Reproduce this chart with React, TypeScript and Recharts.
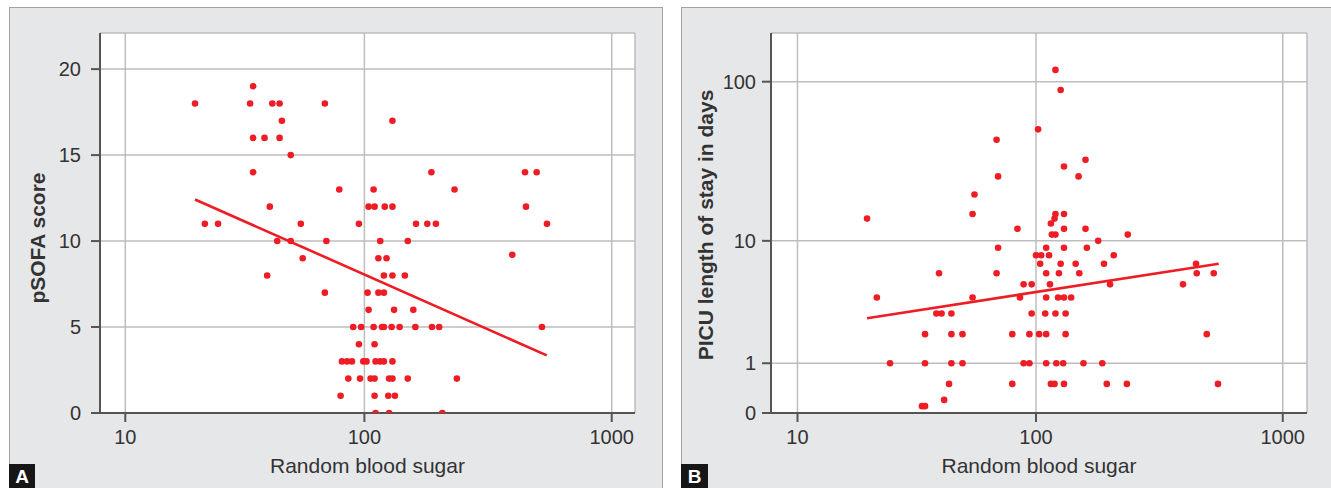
import React from 'react';
import { ScatterChart, Scatter, XAxis, YAxis, CartesianGrid, Label } from 'recharts';

// panel A: pSOFA score vs random blood sugar
const sugarA = [
  20, 35, 34, 42, 45, 69, 46, 35, 39, 45, 50, 35, 41, 22, 25, 55, 44, 50, 70, 56,
  40, 69, 79, 130, 187, 447, 498, 109, 232, 104, 110, 121, 130, 451, 95, 162, 180, 195, 548, 116,
  150, 114, 123, 120, 130, 146, 103, 114, 120, 104, 132, 158, 90, 97, 109, 118, 120, 129, 139, 161,
  188, 201, 523, 95, 110, 81, 85, 89, 99, 102, 111, 116, 120, 130, 86, 96, 106, 110, 126, 130,
  150, 237, 80, 110, 125, 133, 111, 126, 207, 397,
];
const sofaA = [
  18, 19, 18, 18, 18, 18, 17, 16, 16, 16, 15, 14, 12, 11, 11, 11, 10, 10, 10, 9,
  8, 7, 13, 17, 14, 14, 14, 13, 13, 12, 12, 12, 12, 12, 11, 11, 11, 11, 11, 10,
  10, 9, 9, 8, 8, 8, 7, 7, 7, 6, 6, 6, 5, 5, 5, 5, 5, 5, 5, 5,
  5, 5, 5, 4, 4, 3, 3, 3, 3, 3, 3, 3, 3, 3, 2, 2, 2, 2, 2, 2,
  2, 2, 1, 1, 1, 1, 0, 0, 0, 9.2,
];
const fitSugarA = [20, 547];
const fitSofaA = [12.42, 3.35];

// panel B: PICU length of stay vs random blood sugar
const sugarB = [
  120, 126, 102, 69, 70, 159, 130, 149, 120, 130, 119, 115, 84, 130, 159, 116, 120, 179, 70, 110,
  130, 161, 100, 105, 113, 207, 104, 126, 145, 189, 69, 110, 124, 150, 89, 96, 114, 200, 86, 110,
  123, 130, 139, 96, 109, 120, 132, 80, 94, 103, 110, 132, 89, 94, 110, 121, 129, 156, 186, 80,
  115, 119, 130, 194, 56, 55, 20, 40, 22, 55, 39, 41, 45, 35, 45, 50, 25, 35, 45, 50,
  44, 42, 34, 35, 236, 395, 446, 449, 526, 493, 547, 234,
];
const stayB = [
  118, 89, 51, 44, 26, 33, 30, 26, 15, 15, 14, 13, 12, 12, 12, 11, 11, 10, 9, 9,
  9, 9, 8, 8, 8, 8, 7, 7, 7, 7, 6, 6, 6, 6, 5, 5, 5, 5, 4, 4,
  4, 4, 4, 3, 3, 3, 3, 2, 2, 2, 2, 2, 1, 1, 1, 1, 1, 1, 1, 0.5,
  0.5, 0.5, 0.5, 0.5, 20, 15, 14, 6, 4, 4, 3, 3, 3, 2, 2, 2, 1, 1, 1, 1,
  0.5, 0.2, 0.1, 0.1, 11, 5, 7, 6, 6, 2, 0.5, 0.5,
];
const fitSugarB = [20, 551];
const fitStayB = [2.74, 7.0];

const sugarTicks = [10, 100, 1000];
const sofaTicks = [0, 5, 10, 15, 20];
const stayTicks = [0, 1, 10, 100];

const RED = '#ee1c25';
const FONT = '"Liberation Sans", Arial, Helvetica, sans-serif';
const AXIS = '#555555';
const TEXT = '#333333';

// both axes of the figure are drawn as log(v + 1)
const plus1 = (v: number) => v + 1;
const minus1 = (v: number) => String(Math.round(v - 1));

const dataA = sugarA.map((s, i) => ({ x: plus1(s), y: sofaA[i] }));
const lineA = fitSugarA.map((s, i) => ({ x: plus1(s), y: fitSofaA[i] }));
const dataB = sugarB.map((s, i) => ({ x: plus1(s), y: plus1(stayB[i]) }));
const lineB = fitSugarB.map((s, i) => ({ x: plus1(s), y: plus1(fitStayB[i]) }));

const Dot = (p: any) => <circle cx={p.cx} cy={p.cy} r={3.3} fill={RED} />;
const NoDot = () => <g />;

const vTitle = (text: string, x: number, y: number) => () => (
  <text
    x={x}
    y={y}
    transform={`rotate(-90 ${x} ${y})`}
    textAnchor="middle"
    fontFamily={FONT}
    fontSize={21}
    fontWeight="bold"
    fill={TEXT}
  >
    {text}
  </text>
);

const hTitle = (text: string, x: number, y: number) => () => (
  <text x={x} y={y} textAnchor="middle" fontFamily={FONT} fontSize={21} fill={TEXT}>
    {text}
  </text>
);

const tickStyle = { fill: TEXT, fontSize: 20, fontFamily: FONT };
const lineStyle = { stroke: AXIS, strokeWidth: 2 };

type PanelProps = {
  left: number;
  width: number;
  letter: string;
  letterWidth: number;
  children: React.ReactNode;
};

const Panel = ({ left, width, letter, letterWidth, children }: PanelProps) => (
  <div
    style={{
      position: 'absolute',
      left,
      top: 7,
      width,
      height: 481,
      boxSizing: 'border-box',
      background: '#e6e7e9',
      borderTop: '1px solid #a3a3a3',
      borderLeft: '1px solid #a3a3a3',
      borderRight: '1px solid #a3a3a3',
    }}
  >
    <div style={{ position: 'absolute', left: 0, top: 0 }}>{children}</div>
    <div
      style={{
        position: 'absolute',
        left: -1,
        top: 456,
        width: letterWidth,
        height: 25,
        background: '#161616',
        color: '#ffffff',
        fontFamily: FONT,
        fontWeight: 'bold',
        fontSize: 19,
        lineHeight: '26px',
        textAlign: 'center',
      }}
    >
      {letter}
    </div>
  </div>
);

const App = () => (
  <div
    style={{
      position: 'absolute',
      left: 0,
      top: 0,
      width: 1331,
      height: 488,
      background: '#ffffff',
      overflow: 'hidden',
    }}
  >
    <Panel left={9} width={654} letter="A" letterWidth={26}>
      <ScatterChart width={652} height={480} margin={{ top: 25, right: 27, left: 0, bottom: 0 }}>
        <CartesianGrid fill="#ffffff" stroke="#bdbdbd" strokeWidth={1.5} />
        <XAxis
          type="number"
          dataKey="x"
          scale="log"
          domain={[8.7, 1242]}
          allowDataOverflow
          ticks={sugarTicks.map(plus1)}
          tickFormatter={minus1}
          height={75}
          tickSize={9}
          tickMargin={8}
          tick={tickStyle}
          axisLine={lineStyle}
          tickLine={lineStyle}
        >
          <Label content={hTitle('Random blood sugar', 357.5, 465)} />
        </XAxis>
        <YAxis
          type="number"
          dataKey="y"
          domain={[0, 22.1]}
          allowDataOverflow
          ticks={sofaTicks}
          width={90}
          tickSize={9}
          tickMargin={10}
          tick={tickStyle}
          axisLine={lineStyle}
          tickLine={lineStyle}
        >
          <Label content={vTitle('pSOFA score', 35, 230)} />
        </YAxis>
        <Scatter data={dataA} shape={Dot} isAnimationActive={false} />
        <Scatter
          data={lineA}
          shape={NoDot}
          line={{ stroke: RED, strokeWidth: 2.6 }}
          isAnimationActive={false}
        />
      </ScatterChart>
    </Panel>

    <Panel left={681} width={652} letter="B" letterWidth={27}>
      <ScatterChart width={650} height={480} margin={{ top: 25, right: 25, left: 0, bottom: 0 }}>
        <CartesianGrid fill="#ffffff" stroke="#bdbdbd" strokeWidth={1.5} />
        <XAxis
          type="number"
          dataKey="x"
          scale="log"
          domain={[8.6, 1254]}
          allowDataOverflow
          ticks={sugarTicks.map(plus1)}
          tickFormatter={minus1}
          height={75}
          tickSize={9}
          tickMargin={8}
          tick={tickStyle}
          axisLine={lineStyle}
          tickLine={lineStyle}
        >
          <Label content={hTitle('Random blood sugar', 357, 465)} />
        </XAxis>
        <YAxis
          type="number"
          dataKey="y"
          scale="log"
          domain={[1, 199]}
          allowDataOverflow
          ticks={stayTicks.map(plus1)}
          tickFormatter={minus1}
          width={89}
          tickSize={9}
          tickMargin={6}
          tick={tickStyle}
          axisLine={lineStyle}
          tickLine={lineStyle}
        >
          <Label content={vTitle('PICU length of stay in days', 31, 217)} />
        </YAxis>
        <Scatter data={dataB} shape={Dot} isAnimationActive={false} />
        <Scatter
          data={lineB}
          shape={NoDot}
          line={{ stroke: RED, strokeWidth: 2.6 }}
          isAnimationActive={false}
        />
      </ScatterChart>
    </Panel>
  </div>
);

export default App;
